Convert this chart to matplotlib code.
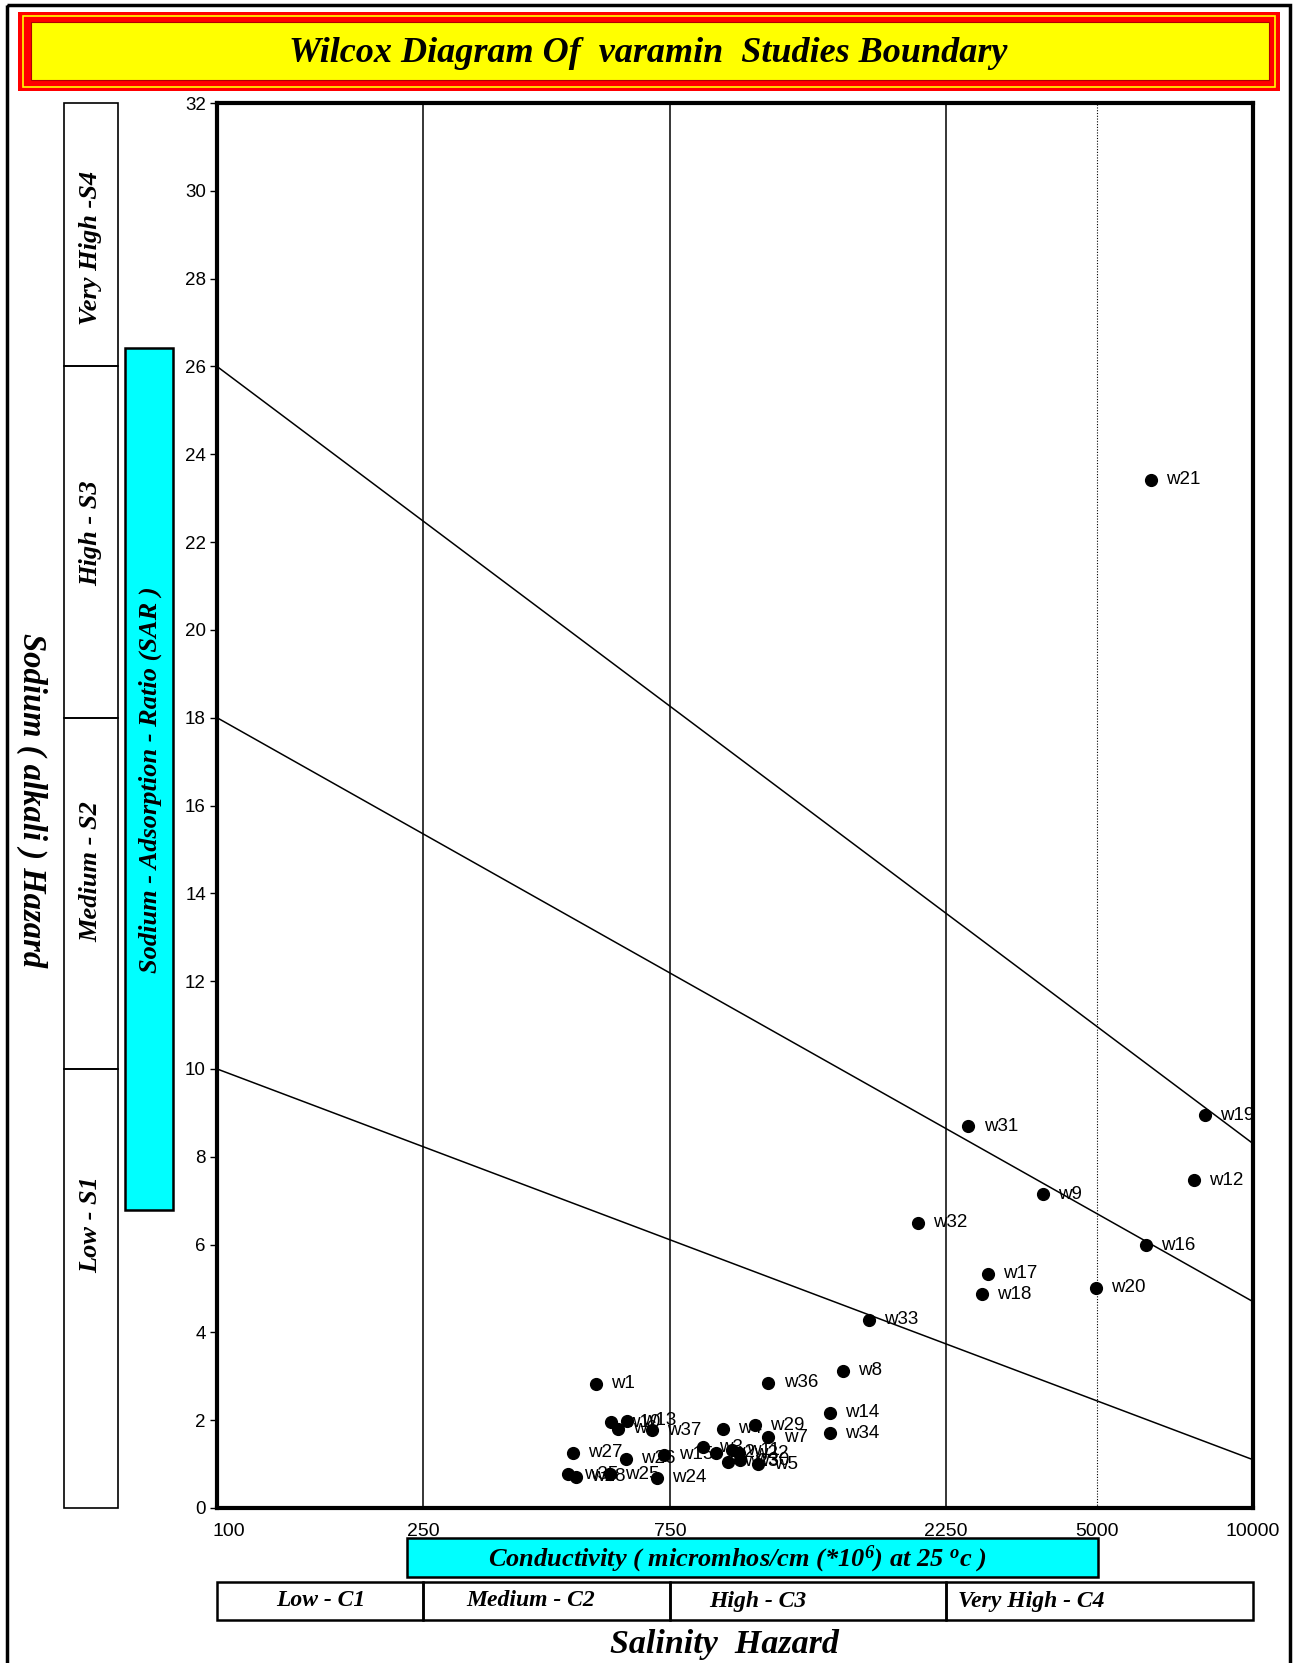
import matplotlib
matplotlib.use("Agg")
import matplotlib.pyplot as plt
from matplotlib.patches import Rectangle
from matplotlib.ticker import NullLocator
from matplotlib.transforms import blended_transform_factory, offset_copy, ScaledTranslation

plt.rcParams['font.family'] = ['Liberation Sans', 'DejaVu Sans']
plt.rcParams['mathtext.fontset'] = 'custom'
plt.rcParams['mathtext.rm'] = 'Liberation Serif:bold:italic'
plt.rcParams['mathtext.it'] = 'Liberation Serif:bold:italic'
plt.rcParams['mathtext.bf'] = 'Liberation Serif:bold:italic'

# ---- data ----
wells = ['w1', 'w2', 'w3', 'w4', 'w5', 'w6', 'w7', 'w8', 'w9', 'w10',
         'w11', 'w12', 'w13', 'w14', 'w15', 'w16', 'w17', 'w18', 'w19', 'w20',
         'w21', 'w22', 'w23', 'w24', 'w25', 'w26', 'w27', 'w28', 'w29', 'w30',
         'w31', 'w32', 'w33', 'w34', 'w35', 'w36', 'w37']
ec = [538, 918, 869, 947, 1109, 594, 1160, 1617, 3932, 576,
      985, 7683, 619, 1526, 730, 6215, 3074, 2994, 8066, 4978,
      6346, 1019, 971, 706, 574, 616, 486, 493, 1093, 1022,
      2821, 2252, 1814, 1526, 477, 1160, 691]
sar = [2.83, 1.26, 1.38, 1.81, 1.00, 1.81, 1.61, 3.13, 7.15, 1.95,
       1.32, 7.46, 1.99, 2.17, 1.21, 5.98, 5.33, 4.87, 8.94, 5.02,
       23.42, 1.25, 1.05, 0.69, 0.77, 1.12, 1.26, 0.71, 1.89, 1.09,
       8.69, 6.50, 4.29, 1.70, 0.77, 2.85, 1.77]

# class limits
ec_bounds = [100, 250, 750, 2550, 10000]
ec_tick_pos = [100, 250, 750, 2550, 5000, 10000]
ec_tick_labels = ['100', '250', '750', '2250', '5000', '10000']
c_classes = ['Low - C1', 'Medium - C2', 'High - C3', 'Very High - C4']
sar_bounds = [0, 10, 18, 26, 32]
s_classes = ['Low - S1', 'Medium - S2', 'High - S3', 'Very High -S4']
# sodium hazard lines: SAR at EC=100 and at EC=10000
line_ec = [100, 10000]
line_sar_start = [10, 18, 26]
line_sar_end = [1.1, 4.7, 8.3]

W, H = 1299, 1663
fig = plt.figure(figsize=(W / 100, H / 100), dpi=100)

# full-figure overlay in pixel units for the frame work
bg = fig.add_axes([0, 0, 1, 1], zorder=0)
bg.set_xlim(0, W)
bg.set_ylim(H, 0)
bg.axis('off')

serif = dict(family='Liberation Serif', weight='bold', style='italic')

# outer frame
bg.add_patch(Rectangle((7, 5), 1283, 1700, fill=False, ec='black', lw=2.5))

# title banner
bg.add_patch(Rectangle((18, 12), 1262, 79, fc='red', ec='none'))
bg.add_patch(Rectangle((23, 16), 1252, 71, fill=False, ec='yellow', lw=1.2))
bg.add_patch(Rectangle((31, 22), 1238, 58, fc='yellow', ec='#b00000', lw=0.8))
bg.text(648, 53, 'Wilcox Diagram Of  varamin  Studies Boundary', ha='center', va='center',
        fontsize=26, **serif)

# main axes
ax = fig.add_axes([217 / W, 1 - 1508 / H, (1253 - 217) / W, (1508 - 103) / H], zorder=2)
ax.set_xscale('log')
ax.set_xlim(100, 10000)
ax.set_ylim(0, 32)
ax.set_yticks(range(0, 33, 2))
ax.set_xticks(ec_tick_pos)
ax.set_xticklabels(ec_tick_labels)
ax.xaxis.set_minor_locator(NullLocator())
ax.tick_params(axis='y', direction='out', length=5, width=1, labelsize=13.5, pad=3)
ax.tick_params(axis='x', length=0, labelsize=14, pad=11)
first = ax.get_xticklabels()[0]
first.set_transform(first.get_transform() + ScaledTranslation(12 / 100, 0, fig.dpi_scale_trans))
for sp in ax.spines.values():
    sp.set_linewidth(3)

for b in ec_bounds[1:-1]:
    ax.axvline(b, color='black', lw=1.1)
ax.axvline(5000, color='black', lw=0.8, ls=(0, (1, 1.5)))

for s0, s1 in zip(line_sar_start, line_sar_end):
    ax.plot(line_ec, [s0, s1], color='black', lw=1.1)

ax.scatter(ec, sar, s=72, color='black', zorder=3)
lab_tr = offset_copy(ax.transData, fig=fig, x=11, y=0, units='points')
for name, x, y in zip(wells, ec, sar):
    t = ax.text(x, y, name, transform=lab_tr, ha='left', va='center', fontsize=13.5)
    t.set_clip_on(True)
    t.set_clip_box(ax.bbox)

# sodium hazard class column (left)
s_tr = blended_transform_factory(bg.transData, ax.transData)
s_label_y = [6.45, 14.5, 22.2, 28.7]
for lo, hi, name, ly in zip(sar_bounds[:-1], sar_bounds[1:], s_classes, s_label_y):
    bg.add_patch(Rectangle((64, lo), 54, hi - lo, transform=s_tr, fill=False, ec='black', lw=1.2))
    bg.text(91, ly, name, transform=s_tr, rotation=90, ha='center', va='center', fontsize=19, **serif)

bg.add_patch(Rectangle((125, 348), 48, 862, fc='cyan', ec='black', lw=1.8))
bg.text(150, 780, 'Sodium - Adsorption - Ratio (SAR )', rotation=90, ha='center', va='center',
        fontsize=19, **serif)
bg.text(32, 800, 'Sodium ( alkali ) Hazard', rotation=-90, ha='center', va='center',
        fontsize=23.5, **serif)

# salinity hazard row (bottom)
bg.add_patch(Rectangle((407, 1538), 691, 39, fc='cyan', ec='black', lw=1.8))
bg.text(737, 1559, r'Conductivity ( micromhos/cm (*10$^{6}$) at 25 $^{o}$c )', ha='center', va='center',
        fontsize=19, **serif)

c_tr = blended_transform_factory(ax.transData, bg.transData)
c_label_x = [321, 531, 758, 1031]
for lo, hi in zip(ec_bounds[:-1], ec_bounds[1:]):
    bg.add_patch(Rectangle((lo, 1582), hi - lo, 38, transform=c_tr, fill=False, ec='black', lw=1.8))
for name, lx in zip(c_classes, c_label_x):
    bg.text(lx, 1601, name, ha='center', va='center', fontsize=17, **serif)

bg.text(724, 1645, 'Salinity  Hazard', ha='center', va='center', fontsize=24.5, **serif)

fig.savefig('out.png', dpi=100)
